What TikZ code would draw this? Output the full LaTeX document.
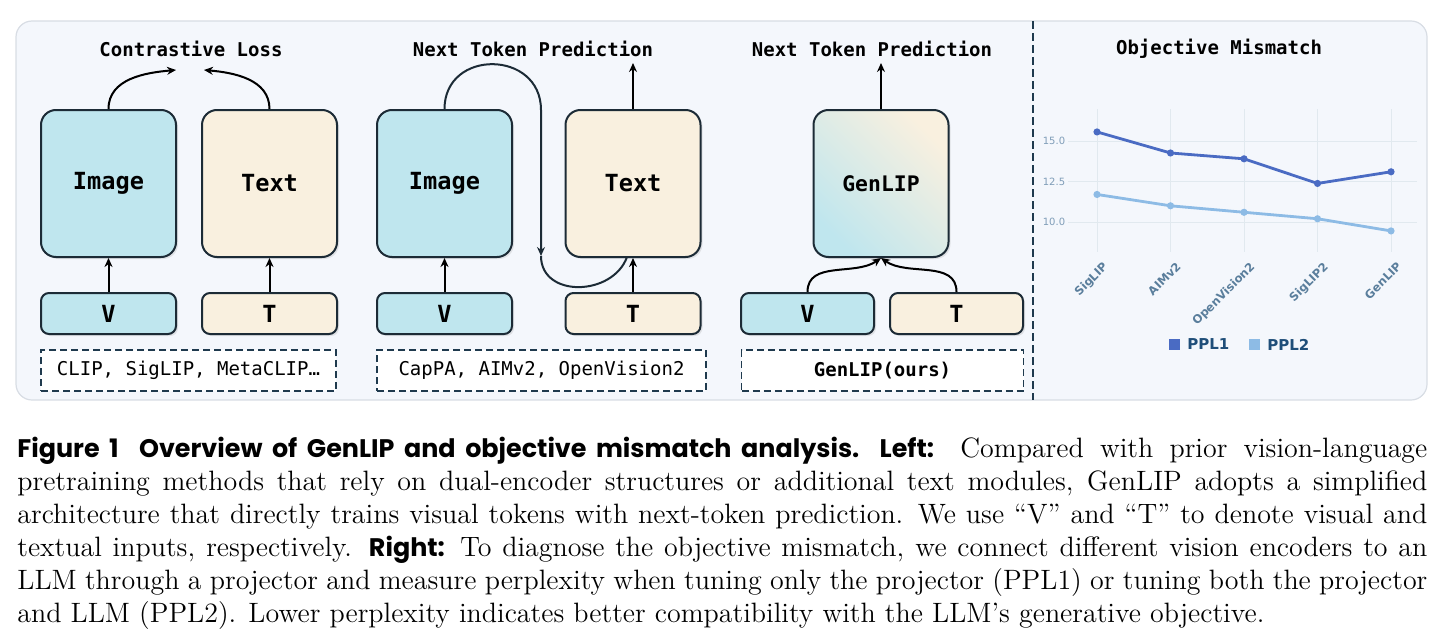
\documentclass[tikz,border=0pt]{standalone}
\usepackage{fontspec}
\setmonofont{DejaVu Sans Mono}
\newfontfamily\chartfont{DejaVu Sans}
\newfontfamily\capfont{Poppins}
\usetikzlibrary{arrows.meta,shadows}

\definecolor{panelbg}{HTML}{F4F7FC}
\definecolor{panelline}{HTML}{D8DDE4}
\definecolor{imgblue}{HTML}{BFE6EE}
\definecolor{txtcream}{HTML}{F9F0DF}
\definecolor{boxline}{HTML}{1C2B36}
\definecolor{navy}{HTML}{1F3A4E}
\definecolor{gridc}{HTML}{E1E9EF}
\definecolor{tickc}{HTML}{7F9DB8}
\definecolor{xtickc}{HTML}{5A7E9C}
\definecolor{pplone}{HTML}{4A6BC3}
\definecolor{ppltwo}{HTML}{8DBBE5}
\definecolor{legc}{HTML}{1F4E79}

\newcommand{\capbold}[1]{{\capfont\bfseries\fontsize{12.7}{16.5}\selectfont #1}}

\begin{document}
\begin{tikzpicture}[x=0.5pt, y=-0.5pt,
  enc/.style={draw=boxline, line width=1pt, rounded corners=7.5pt, minimum width=67.5pt, minimum height=73.5pt,
    font=\ttfamily\bfseries\fontsize{11.8}{14}\selectfont,
    drop shadow={opacity=0.18, shadow xshift=1pt, shadow yshift=-1pt}},
  tok/.style={enc, minimum height=20.5pt, rounded corners=4pt},
  lst/.style={draw=navy, fill=white, line width=0.9pt, dash pattern=on 3.5pt off 2pt, minimum height=20.5pt,
    font=\ttfamily\fontsize{9.5}{11}\selectfont},
  ttl/.style={font=\ttfamily\bfseries\fontsize{9.5}{11}\selectfont},
  arr/.style={-{Stealth[length=4.5pt,width=4pt]}, line width=1pt},
  ytk/.style={font=\chartfont\fontsize{5}{6}\selectfont, text=tickc, inner sep=0pt},
  xtk/.style={font=\chartfont\bfseries\fontsize{5.8}{7}\selectfont, text=xtickc, inner sep=0pt, anchor=north east, rotate=45},
  leg/.style={font=\chartfont\bfseries\fontsize{7.5}{8}\selectfont, text=legc, anchor=west, inner sep=0pt}]
\useasboundingbox (0,0) rectangle (1443,642);

% Panel and divider
\draw[fill=panelbg, draw=panelline, line width=0.6pt, rounded corners=8pt] (16,21) rectangle (1427,400);
\draw[navy, line width=1pt, dash pattern=on 4pt off 2pt] (1033,21) -- (1033,400);

% Contrastive: dual encoders
\node[ttl] (ttlA) at (191,49) {Contrastive Loss};
\node[enc, fill=imgblue] (imgA) at (108.5,183.5) {Image};
\node[enc, fill=txtcream] (txtA) at (269.5,183.5) {Text};
\node[tok, fill=imgblue] (vA) at (108.5,313.5) {V};
\node[tok, fill=txtcream] (tA) at (269.5,313.5) {T};
\node[lst, minimum width=147.5pt] (lstA) at (188.5,370.5) {CLIP, SigLIP, MetaCLIP…};
\coordinate (lossL) at (176,70);
\coordinate (lossR) at (204,70);
\draw[arr] (vA) -- (imgA);
\draw[arr] (tA) -- (txtA);
\draw[arr] (imgA.north) to[out=90, in=185] (lossL);
\draw[arr] (txtA.north) to[out=90, in=-5] (lossR);

% Captioner: image feeds text decoder
\node[ttl] (ttlB) at (533,49) {Next Token Prediction};
\node[enc, fill=imgblue] (imgB) at (444.5,183.5) {Image};
\node[enc, fill=txtcream] (txtB) at (633,183.5) {Text};
\node[tok, fill=imgblue] (vB) at (444.5,313.5) {V};
\node[tok, fill=txtcream] (tB) at (633,313.5) {T};
\node[lst, minimum width=164.5pt] (lstB) at (541.5,370.5) {CapPA, AIMv2, OpenVision2};
\coordinate (ntpB) at (633,63);
\coordinate (snkTop) at (541,110);
\coordinate (snkMid) at (541,256);
\coordinate (snkEnd) at (627,257);
\draw[arr] (vB) -- (imgB);
\draw[arr] (tB) -- (txtB);
\draw[arr] (txtB.north) -- (ntpB);
\draw[arr, boxline] (imgB.north) to[out=90, in=90, looseness=1.6] (snkTop) -- (snkMid);
\draw[boxline, line width=1pt] (snkMid) to[out=-90, in=-110, looseness=1.25] (snkEnd);

% GenLIP: single encoder
\node[ttl] (ttlC) at (872,49) {Next Token Prediction};
\node[enc, bottom color=imgblue, top color=txtcream, shading angle=-45, font=\ttfamily\bfseries\fontsize{10.7}{13}\selectfont] (gen) at (881,183.5) {GenLIP};
\node[tok, fill=imgblue, minimum width=66.5pt] (vC) at (807.5,313.5) {V};
\node[tok, fill=txtcream, minimum width=66.5pt] (tC) at (956.5,313.5) {T};
\node[lst, minimum width=141pt, font=\ttfamily\bfseries\fontsize{9.5}{11}\selectfont] (lstC) at (882.5,370.5) {GenLIP(ours)};
\coordinate (ntpC) at (881,63);
\draw[arr] (gen) -- (ntpC);
\draw[arr] (vC.north) to[out=90, in=-145] (gen.south);
\draw[arr] (tC.north) to[out=90, in=-35] (gen.south);

% Objective mismatch chart
\node[ttl] (ttlD) at (1219,49) {Objective Mismatch};
\foreach \x in {1097,1170.5,1244,1317.5,1391}
  \draw[gridc, line width=0.5pt] (\x,109) -- (\x,252);
\foreach \v [count=\i] in {10.0,12.5,15.0} {
  \draw[gridc, line width=0.5pt] (1068,{384-16.2*\v}) -- (1417,{384-16.2*\v});
  \node[ytk] (yl\i) at (1054,{384-16.2*\v}) {\v};
}
\foreach \x/\a/\b [count=\i] in {1097/15.56/11.7, 1170.5/14.26/11.0, 1244/13.9/10.6, 1317.5/12.38/10.2, 1391/13.1/9.45} {
  \coordinate (pa\i) at (\x,{384-16.2*\a});
  \coordinate (pb\i) at (\x,{384-16.2*\b});
}
\draw[ppltwo, line width=1.4pt, line join=round] (pb1) -- (pb2) -- (pb3) -- (pb4) -- (pb5);
\draw[pplone, line width=1.4pt, line join=round] (pa1) -- (pa2) -- (pa3) -- (pa4) -- (pa5);
\foreach \i in {1,...,5} {
  \fill[ppltwo] (pb\i) circle[radius=1.8pt];
  \fill[pplone] (pa\i) circle[radius=1.8pt];
}
\foreach \x/\n [count=\i] in {1097/SigLIP, 1170.5/AIMv2, 1244/OpenVision2, 1317.5/SigLIP2, 1391/GenLIP}
  \node[xtk] (xl\i) at (\x+5,261) {\n};

% Legend
\fill[pplone] (1169,339) rectangle (1180,350);
\node[leg] (legA) at (1187,344.5) {PPL1};
\fill[ppltwo] (1249,339) rectangle (1260,350);
\node[leg] (legB) at (1267,344.5) {PPL2};

% Caption
\node[anchor=north west, inner sep=0pt, text width=705pt, align=justify, font=\fontsize{14}{16.5}\selectfont] (cap) at (17,437)
  {\capbold{Figure 1\hspace{0.8em}Overview of GenLIP and objective mismatch analysis.\hspace{0.8em}Left:}
  Compared with prior vision-language\linebreak
  pretraining methods that rely on dual-encoder structures or additional text modules, GenLIP adopts a simplified\linebreak
  architecture that directly trains visual tokens with next-token prediction. We use ``V'' and ``T'' to denote visual and\linebreak
  textual inputs, respectively. \capbold{Right:} To diagnose the objective mismatch, we connect different vision encoders to an\linebreak
  LLM through a projector and measure perplexity when tuning only the projector (PPL1) or tuning both the projector\linebreak
  and LLM (PPL2). Lower perplexity indicates better compatibility with the LLM's generative objective.};
\end{tikzpicture}
\end{document}
